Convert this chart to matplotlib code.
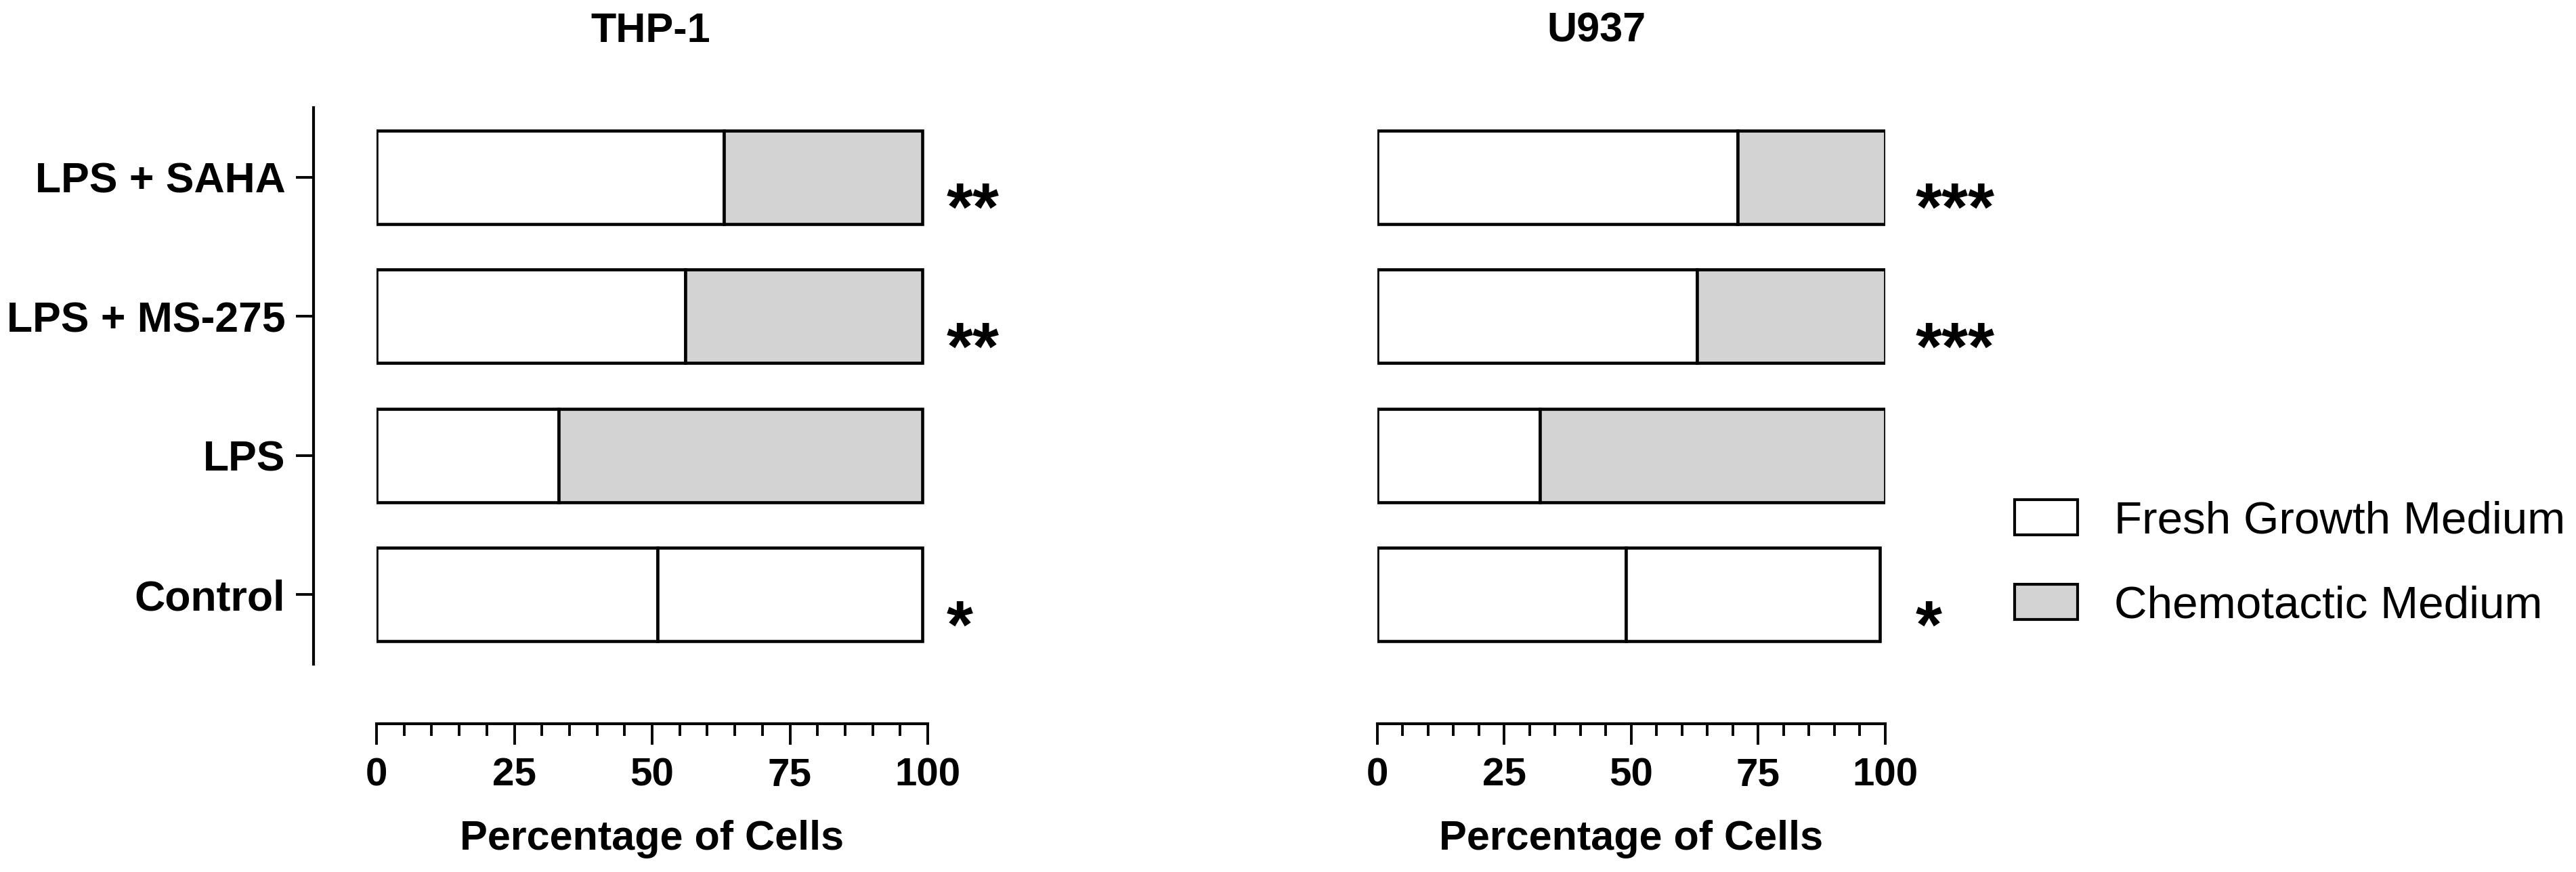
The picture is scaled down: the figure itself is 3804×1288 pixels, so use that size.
import numpy as np
import matplotlib.pyplot as plt
from matplotlib.patches import Patch

plt.rcParams['font.family'] = ['Liberation Sans', 'DejaVu Sans']

categories = ['Control', 'LPS', 'LPS + MS-275', 'LPS + SAHA']
thp1_fresh = [51, 33, 56, 63]
thp1_chemo = [48, 66, 43, 36]
u937_fresh = [49, 32, 63, 71]
u937_chemo = [50, 68, 37, 29]
thp1_stars = ['*', '', '**', '**']
u937_stars = ['*', '', '***', '***']
series_names = ['Fresh Growth Medium', 'Chemotactic Medium']
colors = ['white', '#d3d3d3']
# the control bar is drawn all white in the original figure
chemo_colors = ['white', '#d3d3d3', '#d3d3d3', '#d3d3d3']

W, H = 3804, 1288
fig = plt.figure(figsize=(W / 100, H / 100), dpi=100)

ax_top = 159
ax_bot = 981
panels = [
    (556, 1370, thp1_fresh, thp1_chemo, thp1_stars, 'THP-1', 961, True),
    (2033.5, 2784, u937_fresh, u937_chemo, u937_stars, 'U937', 2357, False),
]

y = np.arange(len(categories))
for x0, x1, fresh, chemo, stars, title, tx, show_y in panels:
    ax = fig.add_axes([x0 / W, 1 - ax_bot / H, (x1 - x0) / W, (ax_bot - ax_top) / H])
    ax.barh(y, fresh, height=0.67, color=colors[0], edgecolor='black', linewidth=3.3)
    ax.barh(y, chemo, left=fresh, height=0.67, color=chemo_colors, edgecolor='black', linewidth=3.3)
    ax.set_xlim(0, 100)
    ax.set_ylim(-0.5, 3.5)

    for sp in ['top', 'right']:
        ax.spines[sp].set_visible(False)
    ax.spines['bottom'].set_position(('outward', 63))
    ax.spines['bottom'].set_linewidth(3)
    ax.set_xticks([0, 25, 50, 75, 100])
    ax.set_xticks(np.arange(0, 101, 5), minor=True)
    ax.tick_params(axis='x', which='major', length=22, width=2.8, pad=14, labelsize=42)
    ax.tick_params(axis='x', which='minor', length=13, width=2.8)
    for lab in ax.get_xticklabels():
        lab.set_fontweight('bold')
    ax.set_xlabel('Percentage of Cells', fontsize=44, fontweight='bold', labelpad=28)

    if show_y:
        ax.spines['left'].set_position(('outward', 67))
        ax.spines['left'].set_linewidth(3)
        ax.set_yticks(y)
        ax.set_yticklabels(categories, fontsize=45, fontweight='bold')
        ax.tick_params(axis='y', length=19, width=2.8, pad=11)
    else:
        ax.spines['left'].set_visible(False)
        ax.set_yticks([])

    star_x = 103.4 if show_y else 106
    for yi, s in zip(y, stars):
        if s:
            ax.text(star_x, yi - 0.38, s, fontsize=72, fontweight='bold',
                    ha='left', va='baseline', clip_on=False)

    fig.text(tx / W, 1 - 62 / H, title, fontsize=44, fontweight='bold', ha='center', va='baseline')

handles = [Patch(facecolor=c, edgecolor='black', linewidth=3) for c in colors]
fig.legend(handles, series_names, loc='upper left', bbox_to_anchor=(2975 / W, 1 - 738 / H),
           frameon=False, fontsize=48.5, handlelength=1.38, handleheight=0.8,
           handletextpad=0.8, labelspacing=0.92, borderpad=0, borderaxespad=0)

fig.savefig('out.png', dpi=100)
